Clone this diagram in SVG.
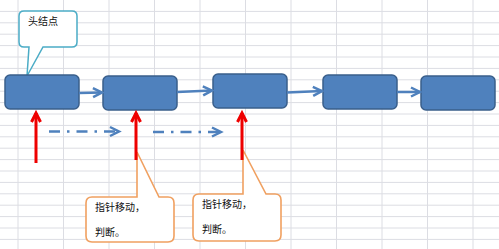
<svg xmlns="http://www.w3.org/2000/svg" width="499" height="249" viewBox="0 0 499 249">
<defs>
<style>
.grid line{stroke:#dcdde3;stroke-width:1}
.node rect{fill:#4f81bd;stroke:#3a5f8b;stroke-width:1.5}
.link{stroke:#4f81bd;stroke-width:2.5;fill:none;marker-end:url(#blueHead)}
.dash{stroke:#4f81bd;stroke-width:2.5;fill:none;stroke-dasharray:11 7 2.5 7;marker-end:url(#blueHead)}
.ptr{stroke:#ee0000;stroke-width:3;fill:none;marker-end:url(#redHead)}
.txt{font-family:"Noto Sans CJK SC","Noto Sans",sans-serif;font-size:10px;fill:#111}
.callT{fill:#fff;stroke:#4bacc6;stroke-width:1.5}
.callO{fill:#fff;stroke:#f0a060;stroke-width:1.6}
</style>
<marker id="blueHead" markerUnits="userSpaceOnUse" orient="auto" refX="0" refY="0" markerWidth="12" markerHeight="12" style="overflow:visible">
<path d="M-9,-4.5 L0,0 L-9,4.5" fill="none" stroke="#4f81bd" stroke-width="2.5"/>
</marker>
<marker id="redHead" markerUnits="userSpaceOnUse" orient="auto" refX="0" refY="0" markerWidth="12" markerHeight="12" style="overflow:visible">
<path d="M-9,-4.5 L0,0 L-9,4.5" fill="none" stroke="#ee0000" stroke-width="3"/>
</marker>
</defs>
<rect width="499" height="249" fill="#ffffff"/>
<g class="grid">
<line x1="18" y1="0" x2="18" y2="249"/><line x1="63.5" y1="0" x2="63.5" y2="249"/><line x1="109" y1="0" x2="109" y2="249"/><line x1="154.5" y1="0" x2="154.5" y2="249"/><line x1="200" y1="0" x2="200" y2="249"/><line x1="245.5" y1="0" x2="245.5" y2="249"/><line x1="291" y1="0" x2="291" y2="249"/><line x1="336.5" y1="0" x2="336.5" y2="249"/><line x1="382" y1="0" x2="382" y2="249"/><line x1="427.5" y1="0" x2="427.5" y2="249"/><line x1="473" y1="0" x2="473" y2="249"/>
<line x1="0" y1="11.4" x2="499" y2="11.4"/><line x1="0" y1="22.8" x2="499" y2="22.8"/><line x1="0" y1="34.2" x2="499" y2="34.2"/><line x1="0" y1="45.6" x2="499" y2="45.6"/><line x1="0" y1="57" x2="499" y2="57"/><line x1="0" y1="68.4" x2="499" y2="68.4"/><line x1="0" y1="79.8" x2="499" y2="79.8"/><line x1="0" y1="91.2" x2="499" y2="91.2"/><line x1="0" y1="102.6" x2="499" y2="102.6"/><line x1="0" y1="114" x2="499" y2="114"/><line x1="0" y1="125.4" x2="499" y2="125.4"/><line x1="0" y1="136.8" x2="499" y2="136.8"/><line x1="0" y1="148.2" x2="499" y2="148.2"/><line x1="0" y1="159.6" x2="499" y2="159.6"/><line x1="0" y1="171" x2="499" y2="171"/><line x1="0" y1="182.4" x2="499" y2="182.4"/><line x1="0" y1="193.8" x2="499" y2="193.8"/><line x1="0" y1="205.2" x2="499" y2="205.2"/><line x1="0" y1="216.6" x2="499" y2="216.6"/><line x1="0" y1="228" x2="499" y2="228"/><line x1="0" y1="239.4" x2="499" y2="239.4"/>
</g>
<g id="callout-head">
<path class="callT" d="M24,11 H72 Q77,11 77,16 V42 Q77,47 72,47 H43 L27,76 L29,47 H24 Q19,47 19,42 V16 Q19,11 24,11 Z"/>
<text class="txt" x="28" y="25">头结点</text>
</g>
<g id="callout-1">
<path class="callO" d="M92,197 H137 V152 L159,197 H168 Q174,197 174,203 V236 Q174,242 168,242 H92 Q86,242 86,236 V203 Q86,197 92,197 Z"/>
<text class="txt" x="95" y="211">指针移动，</text>
<text class="txt" x="95" y="236">判断。</text>
</g>
<g id="callout-2">
<path class="callO" d="M199,194 H243 V150 L266,194 H275 Q281,194 281,200 V235 Q281,241 275,241 H199 Q193,241 193,235 V200 Q193,194 199,194 Z"/>
<text class="txt" x="202" y="208">指针移动，</text>
<text class="txt" x="202" y="233">判断。</text>
</g>
<g id="node1" class="node"><rect x="5" y="75" width="74" height="34" rx="5"/></g>
<g id="node2" class="node"><rect x="103" y="76" width="74" height="34" rx="5"/></g>
<g id="node3" class="node"><rect x="213" y="74" width="74" height="34" rx="5"/></g>
<g id="node4" class="node"><rect x="323" y="75" width="74" height="34" rx="5"/></g>
<g id="node5" class="node"><rect x="421" y="76" width="74" height="34" rx="5"/></g>
<g id="connectors">
<path class="link" d="M79,93 L102,92.5"/>
<path class="link" d="M177,92 L212,90.5"/>
<path class="link" d="M287,92.5 L322,91"/>
<path class="link" d="M397,92 L420,92"/>
<path class="dash" d="M49,131.5 L119,131.5"/>
<path class="dash" d="M153,132 L221,132"/>
<path class="ptr" d="M36,163 L36,113"/>
<path class="ptr" d="M136,160 L136,113"/>
<path class="ptr" d="M242,160 L242,113"/>
</g>
</svg>
